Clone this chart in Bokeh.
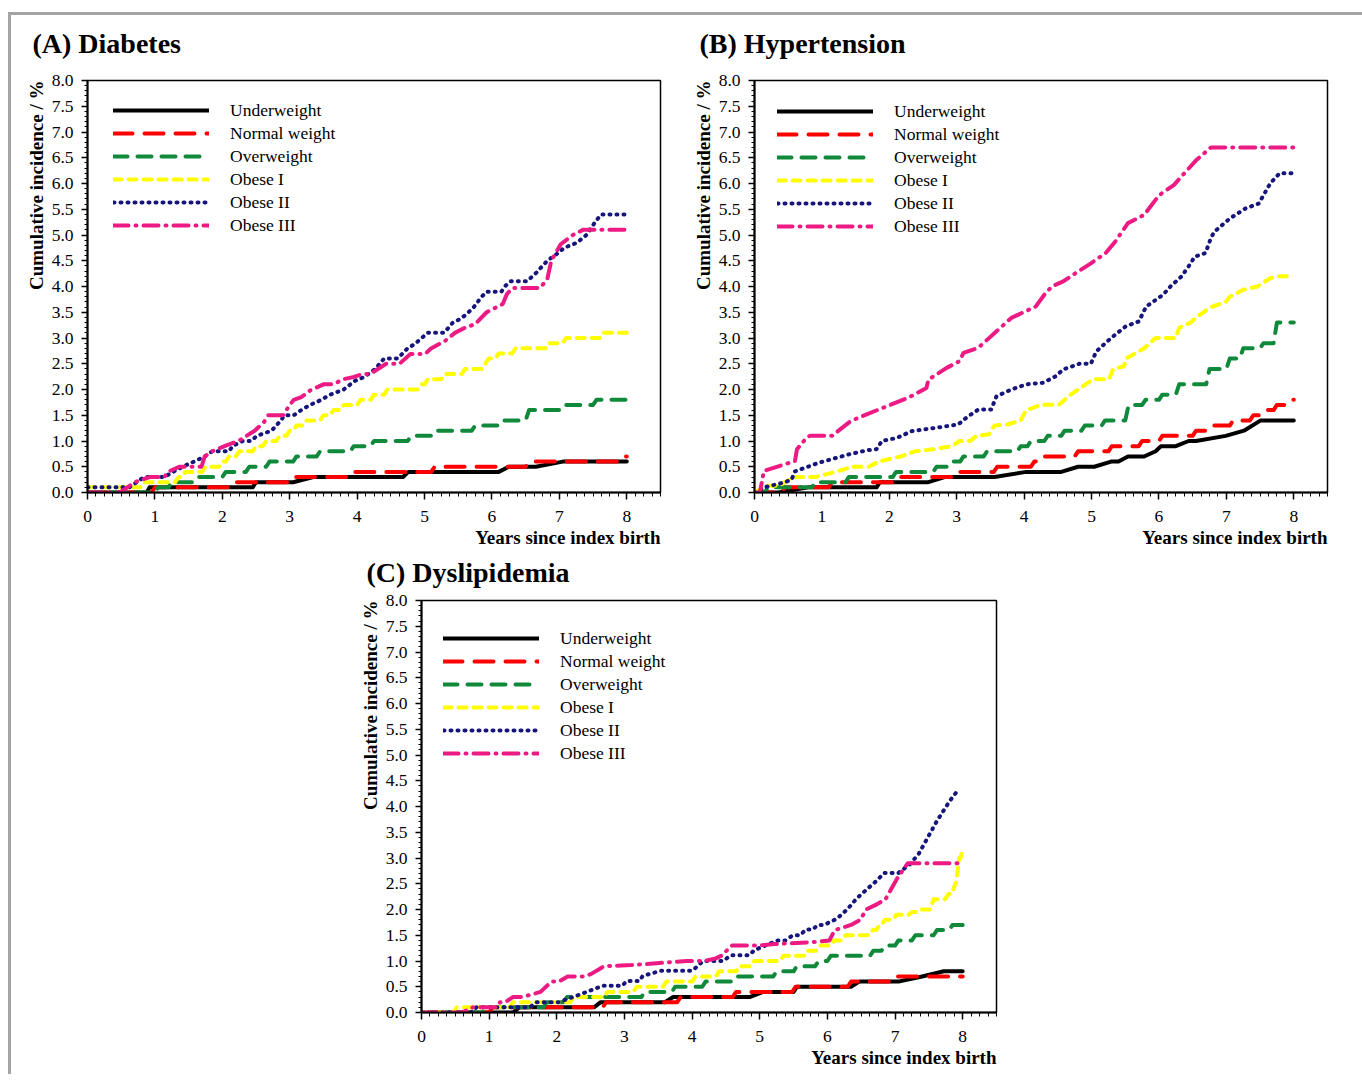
from bokeh.plotting import figure
from bokeh.models import (Range1d, SingleIntervalTicker, PrintfTickFormatter, Title,
                          Legend, LegendItem, Div, Spacer)
from bokeh.layouts import row, column
from bokeh.embed import file_html
from bokeh.resources import INLINE

SERIF = "Liberation Serif"

# ---------------- data ----------------
NAMES = ["Underweight", "Normal weight", "Overweight", "Obese I", "Obese II", "Obese III"]
TITLES = ["(A) Diabetes", "(B) Hypertension", "(C) Dyslipidemia"]
X_LABEL = "Years since index birth"
Y_LABEL = "Cumulative incidence / %"

# Panel A – Diabetes
A_under_x = [0, 0.88, 0.92, 2.45, 2.5, 3.05, 3.35, 4.68, 4.76, 6.1, 6.25, 6.65, 7.05, 8.0]
A_under_y = [0, 0, 0.1, 0.1, 0.2, 0.2, 0.3, 0.3, 0.4, 0.4, 0.5, 0.5, 0.6, 0.6]
A_normal_t = [0, 0.95, 2.1, 3.0, 3.85, 5.1, 6.5, 7.85]
A_normal_v = [0, 0.1, 0.2, 0.3, 0.4, 0.5, 0.6, 0.7]
A_over_t = [0, 1.0, 1.2, 1.55, 2.0, 2.35, 2.65, 3.05, 3.4, 3.9, 4.2, 4.75, 5.15, 5.7, 6.1, 6.5, 7.05, 7.5]
A_over_v = [0, 0.1, 0.2, 0.3, 0.4, 0.5, 0.6, 0.7, 0.8, 0.9, 1.0, 1.1, 1.2, 1.3, 1.4, 1.6, 1.7, 1.8]
A_ob1_t = [0, 0.8, 1.3, 1.4, 1.7, 1.95, 2.05, 2.2, 2.45, 2.6, 2.8, 2.95, 3.05, 3.2, 3.45, 3.6,
           3.75, 4.0, 4.2, 4.4, 4.9, 5.0, 5.25, 5.55, 5.85, 5.9, 6.05, 6.3, 6.8, 7.05, 7.6]
A_ob1_v = [0.1, 0.2, 0.3, 0.4, 0.5, 0.6, 0.7, 0.8, 0.9, 1.0, 1.1, 1.2, 1.3, 1.4, 1.5, 1.6,
           1.7, 1.8, 1.9, 2.0, 2.1, 2.2, 2.3, 2.4, 2.5, 2.6, 2.7, 2.8, 2.9, 3.0, 3.1]
A_ob2_x = [0, 0.55, 0.62, 0.73, 0.84, 1.14, 1.27, 1.41, 1.58, 1.74, 1.85, 2.1, 2.15, 2.3, 2.43,
           2.51, 2.73, 2.87, 2.92, 3.06, 3.17, 3.3, 3.47, 3.6, 3.8, 3.97, 4.1, 4.27, 4.4, 4.6,
           4.74, 4.85, 4.96, 5.04, 5.29, 5.42, 5.53, 5.62, 5.73, 5.84, 5.92, 6.14, 6.19, 6.27,
           6.52, 6.66, 6.82, 6.96, 7.07, 7.26, 7.4, 7.53, 7.62, 8.0]
A_ob2_y = [0.1, 0.1, 0.1, 0.2, 0.3, 0.3, 0.4, 0.5, 0.6, 0.7, 0.8, 0.8, 0.9, 1.0, 1.0,
           1.1, 1.2, 1.4, 1.5, 1.5, 1.6, 1.7, 1.8, 1.9, 2.0, 2.17, 2.24, 2.4, 2.6, 2.6,
           2.79, 2.88, 3.0, 3.1, 3.1, 3.3, 3.37, 3.46, 3.6, 3.79, 3.9, 3.9, 4.0, 4.1,
           4.1, 4.27, 4.5, 4.63, 4.75, 4.85, 5.0, 5.25, 5.4, 5.4]
A_ob3_x = [0, 0.48, 0.59, 0.7, 0.92, 1.14, 1.19, 1.36, 1.69, 1.74, 1.85, 2.07, 2.24, 2.48, 2.62,
           2.68, 2.9, 3.0, 3.06, 3.17, 3.3, 3.5, 3.64, 3.8, 3.94, 4.08, 4.19, 4.43, 4.63,
           4.79, 5.01, 5.09, 5.31, 5.45, 5.6, 5.75, 5.92, 6.16, 6.22, 6.3, 6.71, 6.82, 6.88,
           7.02, 7.2, 7.35, 8.0]
A_ob3_y = [0, 0, 0.1, 0.2, 0.3, 0.3, 0.4, 0.5, 0.5, 0.7, 0.8, 0.92, 1.0, 1.2, 1.37,
           1.5, 1.5, 1.7, 1.8, 1.85, 1.98, 2.1, 2.1, 2.2, 2.24, 2.3, 2.3, 2.5, 2.5,
           2.69, 2.69, 2.79, 2.95, 3.1, 3.2, 3.27, 3.5, 3.66, 3.85, 3.97, 3.97, 4.14, 4.5,
           4.82, 5.0, 5.1, 5.1]

# Panel B – Hypertension
B_under_x = [0, 0.35, 0.8, 1.81, 1.86, 2.58, 2.82, 3.56, 4.03, 4.55, 4.8, 5.04, 5.29, 5.4,
             5.54, 5.78, 5.95, 6.03, 6.25, 6.44, 6.55, 6.99, 7.26, 7.51, 8.0]
B_under_y = [0, 0, 0.1, 0.1, 0.2, 0.2, 0.3, 0.3, 0.4, 0.4, 0.5, 0.5, 0.6, 0.6,
             0.7, 0.7, 0.8, 0.9, 0.9, 1.0, 1.0, 1.1, 1.2, 1.4, 1.4]
B_normal_t = [0, 0.4, 1.1, 2.1, 2.95, 3.55, 4.1, 4.25, 4.75, 5.25, 5.7, 6.0, 6.5, 6.75, 7.05,
              7.35, 7.5, 7.7, 7.9]
B_normal_v = [0, 0.1, 0.2, 0.3, 0.4, 0.5, 0.6, 0.7, 0.8, 0.9, 1.0, 1.1, 1.2, 1.3, 1.4,
              1.5, 1.6, 1.7, 1.8]
B_over_t = [0, 0.15, 0.85, 1.35, 2.05, 2.65, 2.9, 3.05, 3.4, 3.9, 4.05, 4.3, 4.55, 4.85, 5.15,
            5.5, 5.75, 6.0, 6.25, 6.7, 7.0, 7.2, 7.5, 7.7]
B_over_v = [0, 0.1, 0.2, 0.3, 0.4, 0.5, 0.6, 0.7, 0.8, 0.9, 1.0, 1.1, 1.2, 1.3, 1.4,
            1.7, 1.8, 1.9, 2.1, 2.4, 2.6, 2.8, 2.9, 3.3]
B_ob1_x = [0, 0.15, 0.36, 0.58, 0.9, 1.2, 1.45, 1.7, 1.84, 2.17, 2.38, 2.66, 2.93, 3.04, 3.2,
           3.29, 3.48, 3.56, 3.75, 3.95, 4.03, 4.25, 4.52, 4.69, 5.02, 5.26, 5.32, 5.48, 5.51,
           5.78, 5.95, 6.25, 6.3, 6.47, 6.55, 6.77, 6.99, 7.05, 7.26, 7.46, 7.65, 7.76, 8.0]
B_ob1_y = [0, 0.13, 0.13, 0.3, 0.3, 0.4, 0.5, 0.5, 0.6, 0.7, 0.8, 0.84, 0.9, 1.0, 1.0,
           1.1, 1.13, 1.3, 1.32, 1.4, 1.6, 1.7, 1.71, 1.9, 2.2, 2.2, 2.4, 2.45, 2.6,
           2.8, 3.0, 3.0, 3.2, 3.3, 3.4, 3.6, 3.7, 3.8, 3.94, 4.0, 4.16, 4.2, 4.2]
B_ob2_x = [0, 0.05, 0.14, 0.3, 0.45, 0.55, 0.6, 0.96, 1.4, 1.67, 1.81, 1.89, 2.11, 2.33, 2.71,
           3.02, 3.15, 3.32, 3.51, 3.59, 3.81, 4.03, 4.28, 4.47, 4.58, 4.82, 4.99, 5.07, 5.29,
           5.51, 5.7, 5.81, 6.06, 6.17, 6.33, 6.44, 6.53, 6.69, 6.77, 6.82, 7.05, 7.29, 7.48,
           7.65, 7.79, 8.0]
B_ob2_y = [0, 0, 0.1, 0.15, 0.2, 0.25, 0.41, 0.58, 0.74, 0.82, 0.84, 1.0, 1.06, 1.19, 1.26,
           1.32, 1.46, 1.61, 1.61, 1.87, 2.0, 2.1, 2.13, 2.26, 2.39, 2.5, 2.5, 2.74, 3.0,
           3.23, 3.32, 3.61, 3.84, 4.0, 4.19, 4.39, 4.58, 4.65, 4.94, 5.06, 5.32, 5.52, 5.61,
           6.0, 6.2, 6.2]
B_ob3_x = [0, 0.08, 0.14, 0.6, 0.63, 0.77, 0.82, 1.15, 1.43, 1.84, 2.28, 2.55, 2.58, 2.85, 3.04,
           3.1, 3.32, 3.59, 3.81, 4.17, 4.3, 4.41, 4.58, 4.8, 4.99, 5.21, 5.35, 5.54, 5.78, 6.0,
           6.22, 6.55, 6.77, 8.0]
B_ob3_y = [0, 0, 0.42, 0.61, 0.84, 1.06, 1.1, 1.1, 1.39, 1.61, 1.84, 2.03, 2.19, 2.42, 2.55,
           2.71, 2.81, 3.13, 3.39, 3.61, 3.84, 4.0, 4.1, 4.29, 4.45, 4.65, 4.87, 5.23, 5.39, 5.77,
           5.97, 6.45, 6.7, 6.7]

# Panel C – Dyslipidemia
C_under_x = [0, 1.35, 1.45, 2.55, 2.65, 3.6, 3.72, 4.85, 5.05, 5.5, 5.55, 6.35, 6.47, 7.05, 7.4, 7.72, 8.0]
C_under_y = [0, 0, 0.1, 0.1, 0.2, 0.2, 0.3, 0.3, 0.4, 0.4, 0.5, 0.5, 0.6, 0.6, 0.7, 0.8, 0.8]
C_normal_t = [0, 1.0, 2.68, 3.78, 4.6, 5.48, 6.3, 6.98]
C_normal_v = [0, 0.1, 0.2, 0.3, 0.4, 0.5, 0.6, 0.7]
C_over_t = [0, 0.9, 1.8, 2.1, 3.25, 3.7, 4.15, 4.63, 5.2, 5.5, 5.82, 6.0, 6.63, 6.8, 7.0, 7.25, 7.57, 7.8]
C_over_v = [0, 0.1, 0.2, 0.3, 0.4, 0.5, 0.6, 0.7, 0.8, 0.9, 1.0, 1.1, 1.2, 1.3, 1.4, 1.5, 1.6, 1.7]
C_ob1_t = [0, 0.47, 1.3, 2.2, 2.7, 3.13, 3.57, 4.0, 4.35, 4.65, 4.87, 5.3, 5.65, 5.84, 6.05,
           6.22, 6.62, 6.72, 6.8, 6.97, 7.2, 7.33, 7.52, 7.74, 7.84, 7.9, 7.97]
C_ob1_v = [0, 0.1, 0.2, 0.3, 0.4, 0.5, 0.6, 0.7, 0.8, 0.9, 1.0, 1.1, 1.2, 1.3, 1.4,
           1.5, 1.6, 1.7, 1.8, 1.9, 1.95, 2.0, 2.2, 2.3, 2.5, 3.0, 3.2]
C_ob2_x = [0, 0.73, 0.81, 1.6, 1.7, 2.03, 2.24, 2.46, 2.68, 2.97, 3.03, 3.22, 3.27, 3.54, 4.0,
           4.08, 4.16, 4.46, 4.57, 4.84, 4.92, 5.08, 5.27, 5.38, 5.49, 5.6, 5.68, 5.78, 5.86,
           5.95, 6.14, 6.3, 6.43, 6.59, 6.73, 6.84, 7.05, 7.22, 7.35, 7.51, 7.62, 7.81, 7.92]
C_ob2_y = [0, 0, 0.1, 0.1, 0.2, 0.2, 0.3, 0.41, 0.52, 0.52, 0.61, 0.61, 0.71, 0.81, 0.81,
           0.9, 1.0, 1.0, 1.11, 1.11, 1.21, 1.3, 1.4, 1.4, 1.5, 1.5, 1.61, 1.61, 1.7,
           1.7, 1.82, 2.01, 2.21, 2.4, 2.56, 2.71, 2.71, 2.88, 3.08, 3.46, 3.72, 4.11, 4.3]
C_ob3_x = [0, 0.6, 0.76, 1.11, 1.16, 1.24, 1.35, 1.49, 1.76, 1.92, 2.03, 2.16, 2.41, 2.51, 2.7,
           3.1, 3.43, 3.7, 3.92, 4.19, 4.35, 4.43, 4.59, 5.0, 5.22, 5.54, 5.81, 6.03, 6.11,
           6.35, 6.49, 6.57, 6.73, 6.86, 7.03, 7.19, 7.95]
C_ob3_y = [0, 0, 0.1, 0.1, 0.2, 0.2, 0.3, 0.3, 0.4, 0.6, 0.6, 0.7, 0.7, 0.75, 0.9,
           0.92, 0.95, 0.98, 1.0, 1.0, 1.05, 1.1, 1.3, 1.3, 1.33, 1.35, 1.37, 1.4, 1.6,
           1.7, 1.8, 2.0, 2.1, 2.2, 2.6, 2.9, 2.9]

# ---------------- style ----------------
COLORS = ["#000000", "#FF0000", "#10893B", "#FFFF00", "#15157C", "#EE1A84"]
DASHES = ["solid", "19 12", "14 10", "8 7", "1 6", "15 7 1 7"]
LINE_W = 4
X_END = 8.0


def steps(t, v, rise=0.05):
    """Turn step times/values into a polyline (short slanted risers)."""
    xs, ys = [t[0]], [v[0]]
    for i in range(1, len(t)):
        xs += [t[i], min(t[i] + rise, X_END)]
        ys += [v[i - 1], v[i]]
    xs.append(X_END)
    ys.append(v[-1])
    return xs, ys


def make_panel(title, series, width, height, mb_left, mb_top, mb_right, mb_bottom,
               leg_dx, leg_dy, title_gap):
    p = figure(width=width, height=height, x_range=Range1d(0, 8.5), y_range=Range1d(0, 8),
               output_backend="svg", toolbar_location=None,
               min_border_left=mb_left, min_border_top=mb_top,
               min_border_right=mb_right, min_border_bottom=mb_bottom)
    frame_h = height - mb_top - mb_bottom

    # gap between frame and panel title (blank spacer panel), then the title itself
    p.add_layout(Title(text=" ", text_font_size="2px", standoff=title_gap), "above")
    p.add_layout(Title(text=title, text_font=SERIF, text_font_size="28px",
                       text_font_style="bold", text_color="black",
                       align="left", offset=-55, standoff=0), "above")

    p.xgrid.visible = False
    p.ygrid.visible = False
    p.outline_line_color = "black"
    p.outline_line_width = 1.5
    p.background_fill_color = "white"
    p.border_fill_color = "white"

    p.xaxis.ticker = SingleIntervalTicker(interval=1, num_minor_ticks=8)
    p.yaxis.ticker = SingleIntervalTicker(interval=0.5, num_minor_ticks=5)
    p.yaxis.formatter = PrintfTickFormatter(format="%.1f")
    for ax in (p.xaxis[0], p.yaxis[0]):
        ax.axis_line_color = "black"
        ax.axis_line_width = 2
        ax.major_tick_line_color = "black"
        ax.major_tick_line_width = 1.5
        ax.minor_tick_line_color = "black"
        ax.minor_tick_line_width = 1
        ax.major_tick_in = 0
        ax.minor_tick_in = 0
        ax.major_label_text_font = SERIF
        ax.major_label_text_font_size = "17.5px"
        ax.major_label_text_color = "black"
    p.xaxis.major_tick_out = 7
    p.xaxis.minor_tick_out = 4
    p.xaxis.major_label_standoff = 11
    p.yaxis.major_tick_out = 6
    p.yaxis.minor_tick_out = 3
    p.yaxis.major_label_standoff = 8

    p.add_layout(Title(text=Y_LABEL, align="right", text_font=SERIF, text_font_size="19px",
                       text_font_style="bold", text_color="black", standoff=4), "left")
    p.add_layout(Title(text=X_LABEL, align="right", text_font=SERIF, text_font_size="19px",
                       text_font_style="bold", text_color="black", standoff=0), "below")

    items = []
    for name, color, dash, (xs, ys) in zip(NAMES, COLORS, DASHES, series):
        r = p.line(xs, ys, line_color=color, line_width=LINE_W, line_dash=dash,
                   line_cap="round", line_join="round")
        items.append(LegendItem(label=name, renderers=[r]))

    row_h, gap = 22, 1
    leg_h = len(items) * row_h + (len(items) - 1) * gap
    leg = Legend(items=items, location=(leg_dx, frame_h - leg_dy - leg_h),
                 border_line_color=None, background_fill_alpha=0,
                 padding=0, margin=0, spacing=gap,
                 glyph_width=96, glyph_height=row_h, label_height=row_h,
                 label_standoff=21, label_text_font=SERIF, label_text_font_size="17.5px",
                 label_text_color="black")
    p.add_layout(leg)
    return p


series_A = [(A_under_x, A_under_y), steps(A_normal_t, A_normal_v), steps(A_over_t, A_over_v),
            steps(A_ob1_t, A_ob1_v), (A_ob2_x, A_ob2_y), (A_ob3_x, A_ob3_y)]
series_B = [(B_under_x, B_under_y), steps(B_normal_t, B_normal_v), steps(B_over_t, B_over_v),
            (B_ob1_x, B_ob1_y), (B_ob2_x, B_ob2_y), (B_ob3_x, B_ob3_y)]
series_C = [(C_under_x, C_under_y), steps(C_normal_t, C_normal_v), steps(C_over_t, C_over_v),
            steps(C_ob1_t, C_ob1_v), (C_ob2_x, C_ob2_y), (C_ob3_x, C_ob3_y)]

pA = make_panel(TITLES[0], series_A, 667, 539, 76, 65, 18, 62, 26, 19, 18)
pB = make_panel(TITLES[1], series_B, 676, 539, 76, 65, 27, 62, 23, 20, 18)
pC = make_panel(TITLES[2], series_C, 671, 520, 76, 46, 20, 62, 22, 27, 9)

GRAY = "#A3A3A3"
top_line = Div(text="", width=1354, height=3, margin=0, styles={"background-color": GRAY})
left_line = Div(text="", width=3, height=1059, margin=0, styles={"background-color": GRAY})
content = column(row(pA, pB), row(Spacer(width=334, height=10), pC))
framed = column(top_line, row(left_line, content))
page = column(Spacer(width=10, height=12), row(Spacer(width=8, height=10), framed))

open("out.html", "w").write(file_html(page, INLINE))
